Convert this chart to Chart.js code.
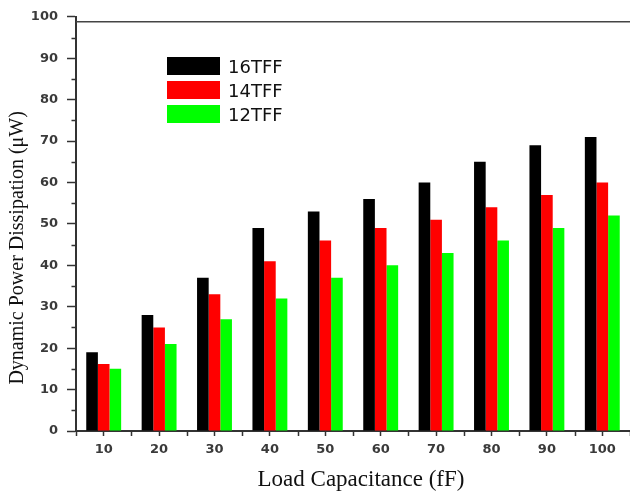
<!DOCTYPE html>
<html>
<head>
<meta charset="utf-8">
<title>Dynamic Power Dissipation</title>
<script src="https://cdn.jsdelivr.net/npm/chart.js@4.4.1/dist/chart.umd.min.js"></script>
<style>
  html, body { margin: 0; padding: 0; background: #fff; }
  #wrap { position: relative; width: 630px; height: 494px; }
  #legend { position: absolute; left: 167px; top: 54px; font: 18px "DejaVu Sans", sans-serif; color: #111; }
  #legend .item { display: flex; align-items: center; height: 24px; }
  #legend .box { width: 53px; height: 18px; margin-right: 8px; }
</style>
</head>
<body>
<div id="wrap">
  <canvas id="chart" width="630" height="494"></canvas>
  <div id="legend"></div>
</div>
<script>
// load capacitance (fF)
const categories = ["10", "20", "30", "40", "50", "60", "70", "80", "90", "100"];
const seriesNames = ["16TFF", "14TFF", "12TFF"];
const seriesColors = ["#000000", "#ff0000", "#00ff00"];
// dynamic power dissipation (uW)
const tff16 = [19, 28, 37, 49, 53, 56, 60, 65, 69, 71];
const tff14 = [16.2, 25, 33, 41, 46, 49, 51, 54, 57, 60];
const tff12 = [15, 21, 27, 32, 37, 40, 43, 46, 49, 52];
const yMin = 0, yMax = 100, yStep = 10;
const xTitle = "Load Capacitance (fF)";
const yTitle = "Dynamic Power Dissipation (\u03BCW)";

const tickFont = { family: "DejaVu Sans", size: 13, weight: "bold" };
const axisColor = "#333";

// top frame line, minor ticks and the two axis titles
const framePlugin = {
  id: "frame",
  afterDraw(chart) {
    const { ctx, chartArea: a, scales } = chart;
    const y = scales.y;
    ctx.save();
    ctx.strokeStyle = "#444";
    ctx.lineWidth = 1.5;
    ctx.beginPath();
    ctx.moveTo(a.left, a.top + 5);
    ctx.lineTo(a.right, a.top + 5);
    ctx.stroke();

    ctx.strokeStyle = axisColor;
    ctx.lineWidth = 1.5;
    ctx.beginPath();
    for (let v = yMin + yStep / 2; v < yMax; v += yStep) {
      const py = Math.round(y.getPixelForValue(v)) + 0.5;
      ctx.moveTo(a.left - 4.5, py);
      ctx.lineTo(a.left, py);
    }
    const n = categories.length;
    for (let i = 0; i <= n; i++) {
      const px = Math.round(a.left + (a.right - a.left) * i / n) + 0.5;
      ctx.moveTo(px, a.bottom);
      ctx.lineTo(px, a.bottom + 5);
    }
    ctx.stroke();

    ctx.fillStyle = "#111";
    ctx.textAlign = "center";
    ctx.textBaseline = "middle";
    ctx.font = '23px "Liberation Serif", serif';
    ctx.fillText(xTitle, (a.left + a.right) / 2 + 8, a.bottom + 49);
    ctx.translate(17.5, (a.top + a.bottom) / 2 + 24);
    ctx.rotate(-Math.PI / 2);
    ctx.font = '20px "Liberation Serif", serif';
    ctx.fillText(yTitle, 0, 0);
    ctx.restore();
  }
};

const seriesData = [tff16, tff14, tff12];
const datasets = seriesNames.map((name, i) => ({
  label: name,
  data: seriesData[i],
  backgroundColor: seriesColors[i],
  borderWidth: 0,
  categoryPercentage: 0.63,
  barPercentage: 1.0
}));

new Chart(document.getElementById("chart").getContext("2d"), {
  type: "bar",
  data: { labels: categories, datasets: datasets },
  options: {
    responsive: false,
    animation: false,
    devicePixelRatio: 1,
    layout: { padding: { top: 16, right: 0, left: 0, bottom: 0 } },
    plugins: { legend: { display: false }, tooltip: { enabled: false } },
    scales: {
      x: {
        offset: true,
        grid: { display: true, drawOnChartArea: false, offset: false, tickLength: 5, tickColor: axisColor, tickWidth: 1.5 },
        border: { display: true, color: axisColor, width: 2 },
        ticks: { font: tickFont, color: "#3a3a3a", padding: 6, maxRotation: 0 },
        afterFit(scale) { scale.height = 63; }
      },
      y: {
        min: yMin,
        max: yMax,
        grid: { display: true, drawOnChartArea: false, tickLength: 9, tickColor: axisColor, tickWidth: 1.5 },
        border: { display: true, color: axisColor, width: 2 },
        ticks: { stepSize: yStep, font: tickFont, color: "#3a3a3a", padding: 9 },
        afterFit(scale) { scale.width = 76; }
      }
    }
  },
  plugins: [framePlugin]
});

const legendEl = document.getElementById("legend");
seriesNames.forEach((name, i) => {
  const item = document.createElement("div");
  item.className = "item";
  item.innerHTML = `<span class="box" style="background:${seriesColors[i]}"></span><span>${name}</span>`;
  legendEl.appendChild(item);
});
</script>
</body>
</html>
